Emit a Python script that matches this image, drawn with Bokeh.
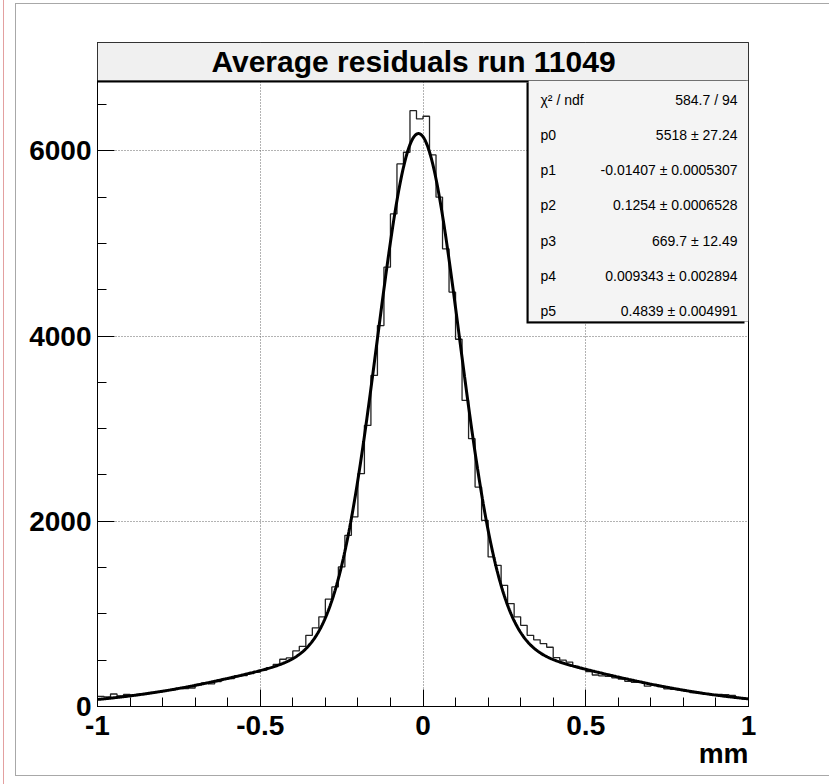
import numpy as np
from bokeh.plotting import figure
from bokeh.models import (FixedTicker, Label, LabelSet, BoxAnnotation, Title,
                          ColumnDataSource, Range1d, InlineStyleSheet)
from bokeh.core.properties import value
from bokeh.embed import file_html
from bokeh.resources import INLINE

# ---------------- data ----------------
title_text = "Average residuals run 11049"
x_axis_title = "mm"
x_min, x_max = -1.0, 1.0
n_bins = 100

# histogram contents (bin width 0.02, from -1 to 1)
counts = [
    110, 105, 135, 115, 130, 122, 130, 140, 150, 158,      # -1.00 .. -0.80
    172, 180, 196, 192, 200, 235, 255, 245, 270, 295,      # -0.80 .. -0.60
    300, 330, 335, 355, 372, 392, 420, 455, 510, 525,      # -0.60 .. -0.40
    600, 650, 769, 850, 968, 1160, 1291, 1507, 1849, 2047, # -0.40 .. -0.20
    2514, 3035, 3575, 4114, 4744, 5319, 5859, 5985, 6434, 6345,  # -0.20 .. 0.00
    6374, 5956, 5500, 4942, 4475, 3966, 3305, 2892, 2370, 2010,  # 0.00 .. 0.20
    1615, 1525, 1309, 1111, 968, 877, 769, 720, 680, 640,  # 0.20 .. 0.40
    528, 500, 480, 432, 410, 378, 340, 330, 325, 310,      # 0.40 .. 0.60
    295, 272, 262, 260, 220, 230, 215, 190, 185, 180,      # 0.60 .. 0.80
    168, 150, 145, 135, 128, 130, 128, 120, 90, 80,        # 0.80 .. 1.00
]

# fit: p0*gaus(p1,p2) + p3*gaus(p4,p5)
fit_params = [5518.0, -0.01407, 0.1254, 669.7, 0.009343, 0.4839]

stat_names = ["\u03c7\u00b2 / ndf", "p0", "p1", "p2", "p3", "p4", "p5"]
stat_values = ["584.7 / 94", "5518 \u00b1 27.24", "-0.01407 \u00b1 0.0005307",
               "0.1254 \u00b1 0.0006528", "669.7 \u00b1 12.49",
               "0.009343 \u00b1 0.002894", "0.4839 \u00b1 0.004991"]

x_ticks = [-1, -0.5, 0, 0.5, 1]
x_tick_labels = ["-1", "-0.5", "0", "0.5", "1"]
y_ticks = [0, 2000, 4000, 6000]
y_tick_labels = ["0", "2000", "4000", "6000"]
y_hist_top = 6760          # top of the histogram pad (bottom of the title box)

# ---------------- layout ----------------
W, H = 829, 784
FL, FR, FT, FB = 97, 81, 42, 78
PAD_TOP = 80               # pixel row where the histogram pad starts
frame_w = W - FL - FR
frame_h = H - FT - FB
y_frame_top = y_hist_top * frame_h / (FT + frame_h - PAD_TOP)
FONT = "Liberation Sans"


def dx(px):
    return x_min + (px - FL) / frame_w * (x_max - x_min)


def dy(py):
    return (FT + frame_h - py) / frame_h * y_frame_top


p = figure(width=W, height=H, x_range=Range1d(x_min, x_max),
           y_range=Range1d(0, y_frame_top), output_backend="svg",
           toolbar_location=None, min_border_left=FL, min_border_right=FR,
           min_border_top=FT, min_border_bottom=FB)
p.background_fill_color = "white"
p.border_fill_color = "white"
p.outline_line_color = "black"
p.outline_line_width = 1

# grids
for g in (p.xgrid, p.ygrid):
    g.grid_line_color = "#666666"
    g.grid_line_dash = "1 2"
    g.grid_line_width = 1

# axes
minor_x = [round(v, 2) for v in np.arange(-1.0, 1.0001, 0.1)]
minor_y = list(range(0, 7000, 500))
p.xaxis.ticker = FixedTicker(ticks=x_ticks, minor_ticks=minor_x)
p.yaxis.ticker = FixedTicker(ticks=y_ticks, minor_ticks=minor_y)
p.xaxis.major_label_overrides = {t: l for t, l in zip(x_ticks, x_tick_labels)}
p.yaxis.major_label_overrides = {t: l for t, l in zip(y_ticks, y_tick_labels)}
for ax in (p.xaxis, p.yaxis):
    ax.axis_line_color = "black"
    ax.major_tick_line_color = "black"
    ax.minor_tick_line_color = "black"
    ax.major_tick_in = 17
    ax.major_tick_out = 0
    ax.minor_tick_in = 9
    ax.minor_tick_out = 0
    ax.major_label_text_font = FONT
    ax.major_label_text_font_style = "bold"
    ax.major_label_text_font_size = "28px"
    ax.major_label_text_color = "black"
p.xaxis.major_label_standoff = 9
p.yaxis.major_label_standoff = 6

# x axis title, right aligned under the axis
p.add_layout(Title(text=x_axis_title, align="right", text_font=FONT,
                   text_font_style="bold", text_font_size="28px",
                   text_color="black", standoff=0, vertical_align="top"), "below")

# histogram
edges = np.linspace(x_min, x_max, n_bins + 1)
p.step(edges, list(counts) + [counts[-1]], mode="after",
       line_color="#222222", line_width=1.3)

# fit curve
a0, m0, s0, a1, m1, s1 = fit_params
xs = np.linspace(x_min, x_max, 801)
fit = a0 * np.exp(-0.5 * ((xs - m0) / s0) ** 2) + a1 * np.exp(-0.5 * ((xs - m1) / s1) ** 2)
p.line(xs, fit, line_color="black", line_width=3)

# title box (top part of the frame)
p.add_layout(BoxAnnotation(left=dx(FL - 2), right=dx(FL + frame_w - 2), top=dy(44),
                           bottom=dy(PAD_TOP + 2), fill_color="black", fill_alpha=1,
                           line_alpha=0))
p.add_layout(BoxAnnotation(left=x_min, right=x_max, top=y_frame_top, bottom=y_hist_top,
                           fill_color="#f0f0f0", fill_alpha=1, line_color="black",
                           line_width=1))
p.add_layout(Label(x=dx(413), y=dy(61), text=title_text, text_align="center",
                   text_baseline="middle", text_font=FONT, text_font_style="bold",
                   text_font_size="30px", text_color="black"))

# stats box
p.add_layout(BoxAnnotation(left=dx(526), right=dx(744), top=dy(PAD_TOP + 2), bottom=dy(323),
                           fill_color="black", fill_alpha=1, line_alpha=0))
p.add_layout(BoxAnnotation(left=dx(528), right=x_max, top=y_hist_top, bottom=dy(321),
                           fill_color="#f4f4f4", fill_alpha=1, line_color="black",
                           line_width=1))
row_y = [dy(99 + 35.3 * i) for i in range(len(stat_names))]
src = ColumnDataSource(dict(name=stat_names, val=stat_values, y=row_y,
                            xl=[dx(540)] * len(stat_names),
                            xr=[dx(737)] * len(stat_names)))
p.add_layout(LabelSet(x="xl", y="y", text="name", source=src, text_font=value(FONT),
                      text_font_size=value("14px"), text_baseline="middle",
                      text_align="left", text_color="black"))
p.add_layout(LabelSet(x="xr", y="y", text="val", source=src, text_font=value(FONT),
                      text_font_size=value("14px"), text_baseline="middle",
                      text_align="right", text_color="black"))

# canvas frame lines
p.stylesheets = [InlineStyleSheet(css="""
:host::after { content: ""; position: absolute; left: 15px; top: 3px; width: 830px;
  height: 773px; border: 1px solid #a8a8a8; box-sizing: border-box; pointer-events: none; }
:host::before { content: ""; position: absolute; left: 3px; top: 0px; width: 1px;
  height: 784px; background: #e3a0a0; pointer-events: none; z-index: 5; }
""")]

open("out.html", "w").write(file_html(p, INLINE))
